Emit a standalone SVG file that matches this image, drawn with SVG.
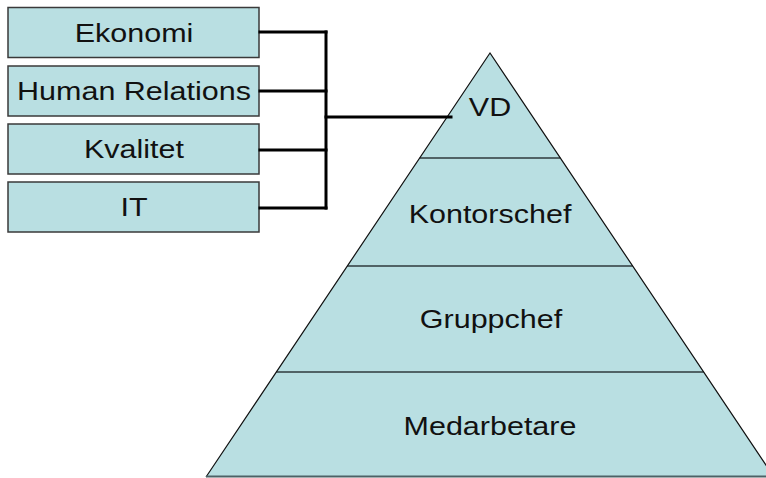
<svg xmlns="http://www.w3.org/2000/svg" width="766" height="478" viewBox="0 0 766 478">
  <style>
    .box { fill: #b9dfe2; stroke: #3a3a3a; stroke-width: 1.5; }
    .band { fill: #b9dfe2; stroke: none; }
    .divider { stroke: #2f3a3c; stroke-width: 1.5; fill: none; }
    .edge { stroke: #111; stroke-width: 1.2; fill: none; }
    .base { stroke: #4d6266; stroke-width: 2; fill: none; }
    .label { font-family: "Liberation Sans", Arial, sans-serif; font-size: 25px; fill: #111; text-anchor: middle; }
    .wire { stroke: #000; stroke-width: 3; fill: none; stroke-linecap: square; }
  </style>

  <!-- staff functions -->
  <g id="ekonomi">
    <rect class="box" x="8" y="7.5" width="251" height="50"/>
    <text class="label" transform="translate(134 42) scale(1.22 1)">Ekonomi</text>
  </g>
  <g id="human-relations">
    <rect class="box" x="8" y="66" width="251" height="50"/>
    <text class="label" transform="translate(134 100) scale(1.22 1)">Human Relations</text>
  </g>
  <g id="kvalitet">
    <rect class="box" x="8" y="124" width="251" height="50"/>
    <text class="label" transform="translate(134 158) scale(1.22 1)">Kvalitet</text>
  </g>
  <g id="it">
    <rect class="box" x="8" y="182" width="251" height="50"/>
    <text class="label" transform="translate(134 216) scale(1.22 1)">IT</text>
  </g>

  <!-- hierarchy pyramid -->
  <g id="vd">
    <polygon class="band" points="490,53 560.3,158 419.7,158"/>
    <text class="label" transform="translate(490 116) scale(1.22 1)">VD</text>
  </g>
  <g id="kontorschef">
    <polygon class="band" points="419.7,158 560.3,158 632.7,266 347.3,266"/>
    <text class="label" transform="translate(490 223) scale(1.22 1)">Kontorschef</text>
  </g>
  <g id="gruppchef">
    <polygon class="band" points="347.3,266 632.7,266 703.7,372 276.3,372"/>
    <text class="label" transform="translate(491 328) scale(1.22 1)">Gruppchef</text>
  </g>
  <g id="medarbetare">
    <polygon class="band" points="276.3,372 703.7,372 774,477 206,477"/>
    <text class="label" transform="translate(490 435) scale(1.22 1)">Medarbetare</text>
  </g>
  <g id="pyramid-lines">
    <line class="divider" x1="419.7" y1="158" x2="560.3" y2="158"/>
    <line class="divider" x1="347.3" y1="266" x2="632.7" y2="266"/>
    <line class="divider" x1="276.3" y1="372" x2="703.7" y2="372"/>
    <polyline class="edge" points="206,477 490,53 774,477"/>
    <line class="base" x1="206" y1="476.5" x2="774" y2="476.5"/>
  </g>

  <!-- connectors -->
  <g id="connectors">
    <line class="wire" x1="260" y1="32" x2="326" y2="32"/>
    <line class="wire" x1="260" y1="91" x2="326" y2="91"/>
    <line class="wire" x1="260" y1="150" x2="326" y2="150"/>
    <line class="wire" x1="260" y1="208" x2="326" y2="208"/>
    <line class="wire" x1="326" y1="32" x2="326" y2="208"/>
    <line class="wire" x1="326" y1="117" x2="451" y2="117"/>
  </g>
</svg>
